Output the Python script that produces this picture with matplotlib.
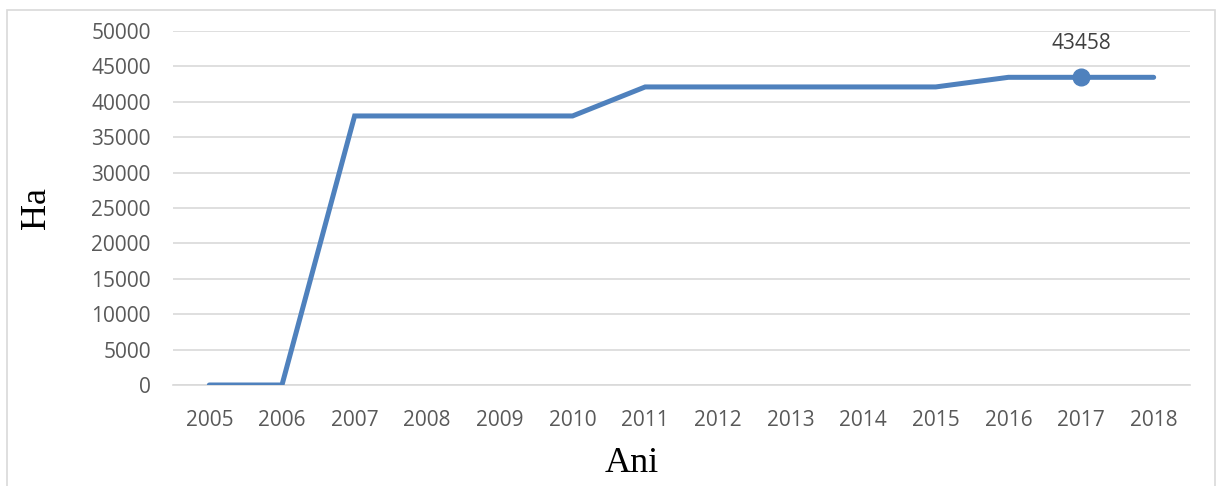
import matplotlib.pyplot as plt
from matplotlib.patches import Rectangle

years = ["2005", "2006", "2007", "2008", "2009", "2010", "2011",
         "2012", "2013", "2014", "2015", "2016", "2017", "2018"]
area_ha = [0, 0, 38000, 38000, 38000, 38000, 42100,
           42100, 42100, 42100, 42100, 43458, 43458, 43458]
marked_year = "2017"
yticks = [0, 5000, 10000, 15000, 20000, 25000, 30000,
          35000, 40000, 45000, 50000]

line_color = "#4f81bd"
grid_color = "#d9d9d9"
tick_color = "#595959"

W, H = 1221, 486
fig = plt.figure(figsize=(W / 100, H / 100), dpi=100)
ax = fig.add_axes([173 / W, 1 - 385 / H, (1190 - 173) / W, (385 - 31) / H])

# outer chart border
fig.patches.append(Rectangle((0.006, -0.01), 0.989, 0.99, transform=fig.transFigure,
                             fill=False, edgecolor=grid_color, linewidth=1.2))

x = list(range(len(years)))
ax.plot(x, area_ha, color=line_color, linewidth=3.6, solid_capstyle="round",
        solid_joinstyle="miter", zorder=3)

i = years.index(marked_year)
ax.plot(x[i], area_ha[i], "o", color=line_color, markersize=12, zorder=4)
ax.annotate(str(area_ha[i]), (x[i], area_ha[i]), xytext=(0, 17),
            textcoords="offset points", ha="center", va="bottom",
            fontsize=15, family="Open Sans", color="#404040")

ax.set_xlim(-0.5, len(years) - 0.5)
ax.set_ylim(0, 50000)
ax.set_yticks(yticks)
ax.set_yticklabels([str(v) for v in yticks])
ax.set_xticks(x)
ax.set_xticklabels(years)
ax.grid(axis="y", color=grid_color, linewidth=1.2)
ax.set_axisbelow(True)
for side in ["top", "right", "left"]:
    ax.spines[side].set_visible(False)
ax.spines["bottom"].set_color(grid_color)
ax.spines["bottom"].set_linewidth(1.2)
ax.tick_params(length=0, labelsize=15, labelcolor=tick_color)
ax.tick_params(axis="y", pad=16)
ax.tick_params(axis="x", pad=18)
for lab in ax.get_xticklabels() + ax.get_yticklabels():
    lab.set_family("Open Sans")

fig.text(632 / W, 1 - 463 / H, "Ani", family="Liberation Serif", fontsize=26,
         ha="center", va="center")
fig.text(36 / W, 1 - 208 / H, "Ha", family="Liberation Serif", fontsize=26,
         ha="center", va="center", rotation=90)

fig.savefig("out.png", dpi=100)
